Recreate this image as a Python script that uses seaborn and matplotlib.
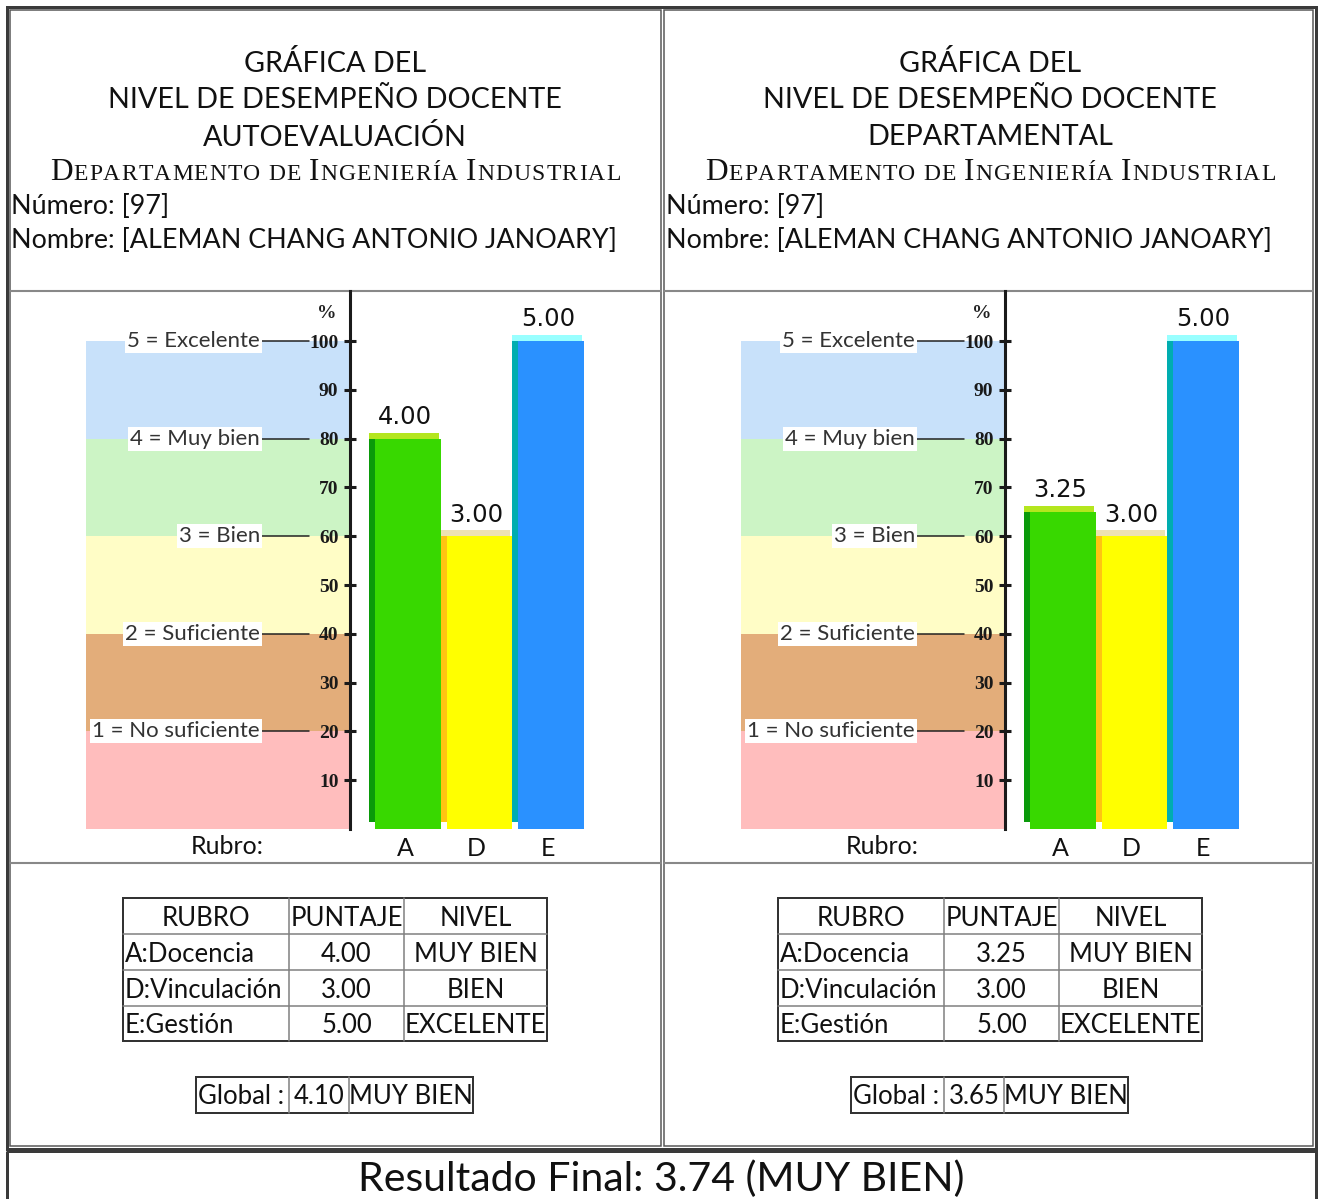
import matplotlib
matplotlib.use("Agg")
import matplotlib.pyplot as plt
import seaborn as sns
import pandas as pd
from matplotlib.patches import Rectangle
from matplotlib.offsetbox import TextArea, HPacker, DrawingArea, AnnotationBbox

# data
rubros = ["A", "D", "E"]
rubro_nombres = ["A:Docencia", "D:Vinculación", "E:Gestión"]
puntaje_auto = [4.00, 3.00, 5.00]
puntaje_depto = [3.25, 3.00, 5.00]
nivel_auto = ["MUY BIEN", "BIEN", "EXCELENTE"]
nivel_depto = ["MUY BIEN", "BIEN", "EXCELENTE"]
global_auto = 4.10
global_depto = 3.65
global_nivel_auto = "MUY BIEN"
global_nivel_depto = "MUY BIEN"
resultado_final = 3.74
resultado_nivel = "MUY BIEN"
numero = 97
nombre = "ALEMAN CHANG ANTONIO JANOARY"
departamento = "Departamento de Ingeniería Industrial"
niveles = ["1 = No suficiente", "2 = Suficiente", "3 = Bien", "4 = Muy bien", "5 = Excelente"]
limites = [0, 20, 40, 60, 80, 100]
yticks = [10, 20, 30, 40, 50, 60, 70, 80, 90, 100]

band_colors = ["#FFBDBD", "#E3AD7A", "#FFFDC6", "#CCF4C5", "#C8E1FA"]
main_colors = ["#38D800", "#FFFF00", "#2A91FF"]
side_colors = ["#0A9A0A", "#FFC412", "#00ADB0"]
top_colors = ["#B4E61E", "#EEE2B2", "#99FFFF"]

W, H = 1318, 1199
SANS = ["Lato", "DejaVu Sans"]
SERIF = ["Liberation Serif", "DejaVu Serif"]
PX = 0.72  # points per pixel at dpi 100

sns.set_theme(style="white")
plt.rcParams["font.family"] = SANS
plt.rcParams["text.color"] = "#111111"

fig = plt.figure(figsize=(W / 100, H / 100), dpi=100)
fig.patch.set_facecolor("white")
ax0 = fig.add_axes([0, 0, 1, 1], zorder=0)
ax0.set_xlim(0, W)
ax0.set_ylim(H, 0)
ax0.axis("off")


def box(ax, x0, y0, x1, y1, color, lw):
    ax.add_patch(Rectangle((x0, y0), x1 - x0, y1 - y0, fill=False,
                           edgecolor=color, linewidth=lw * PX))


def small_caps(ax, text, x, y, big, small, track=0.8):
    # fake small caps: one TextArea per letter, a little tracking between them
    parts = []
    for i, word in enumerate(text.split(" ")):
        if i:
            parts.append(DrawingArea(small * 0.25, 1))
        for ch in word:
            size = big if ch.isupper() else small
            parts.append(TextArea(ch.upper(), textprops=dict(
                size=size, family=SERIF, color="#111111")))
    pack = HPacker(children=parts, align="baseline", pad=0, sep=track)
    ab = AnnotationBbox(pack, (x, y), xycoords="data", frameon=False,
                        box_alignment=(0.5, 0.5), pad=0)
    ax.add_artist(ab)


def header(ox, subtitulo):
    cx = 335 + ox
    ax0.text(cx, 63, "GRÁFICA DEL", ha="center", va="center", fontsize=20.7)
    ax0.text(cx, 100, "NIVEL DE DESEMPEÑO DOCENTE", ha="center", va="center", fontsize=20.7)
    ax0.text(cx, 137, subtitulo, ha="center", va="center", fontsize=20.7)
    small_caps(ax0, departamento, cx, 172, 22.5, 17)
    ax0.text(11 + ox, 206, f"Número: [{numero}]", ha="left", va="center", fontsize=19.4)
    ax0.text(11 + ox, 240, f"Nombre: [{nombre}]", ha="left", va="center", fontsize=19.4)


def chart(ox, puntajes):
    scale = 71.5          # pixels per category step
    c0 = 408              # pixel centre of first bar
    strip = 6 / scale

    def px(xp):
        return (xp - c0) / scale

    ax = fig.add_axes([(86 + ox) / W, 1 - 829 / H, 514 / W, 538 / H], zorder=2)
    ax.set_facecolor("none")
    df = pd.DataFrame({"rubro": rubros, "pct": [p * 20 for p in puntajes]})
    sns.barplot(data=df, x="rubro", y="pct", hue="rubro", order=rubros,
                hue_order=rubros, palette=main_colors, width=65.5 / scale,
                saturation=1, legend=False, linewidth=0, ax=ax)
    bars = sorted(ax.patches, key=lambda p: p.get_x())
    spine_x = px(350)

    # level bands
    frac = (350 - 86) / 514
    for lo, hi, col in zip(limites[:-1], limites[1:], band_colors):
        ax.axhspan(lo, hi, xmin=0, xmax=frac, color=col, lw=0, zorder=0)
    for lvl, lbl in zip(limites[1:], niveles):
        ax.plot([px(262), px(309)], [lvl, lvl], color="#222222", lw=1.1, zorder=1)
        ax.text(px(260), lvl, lbl, ha="right", va="center", fontsize=16,
                color="#333333", zorder=2,
                bbox=dict(facecolor="white", edgecolor="none", pad=1.5))
    ax.text(px(327), 105.7, "%", ha="center", va="center", fontsize=14,
            family=SERIF, fontweight="bold", color="#222222")

    # 3d-ish bar edges and value labels
    centers = []
    for p, val, sc, tc in zip(bars, puntajes, side_colors, top_colors):
        x0, w, h = p.get_x(), p.get_width(), p.get_height()
        ax.add_patch(Rectangle((x0 - strip, 1.4), strip, h - 1.4, color=sc, lw=0, zorder=1))
        ax.add_patch(Rectangle((x0 - strip, h), strip + w - 0.03, 1.25, color=tc, lw=0, zorder=1))
        cx = x0 + (w - strip) / 2
        centers.append(cx)
        ax.text(cx, h + 3.0, f"{val:.2f}", ha="center", va="baseline",
                fontsize=17.5, family=["DejaVu Sans"], color="#111111")

    ax.set_xlim(px(86), px(600))
    ax.set_ylim(0, 538 / 4.88)
    ax.set_xlabel("")
    ax.set_ylabel("")
    for s in ["top", "right", "bottom"]:
        ax.spines[s].set_visible(False)
    ax.spines["left"].set_position(("data", spine_x))
    ax.spines["left"].set_linewidth(2.2)
    ax.spines["left"].set_color("#1a1a1a")
    ax.spines["left"].set_zorder(3)
    ax.set_yticks(yticks)
    ax.tick_params(axis="y", direction="inout", length=8.6, width=2.2, pad=4.0,
                   colors="#1a1a1a", labelsize=14, left=True)
    for t in ax.get_yticklabels():
        t.set_fontfamily(SERIF)
        t.set_fontweight("bold")
    ax.set_xticks(centers)
    ax.set_xticklabels(rubros, fontsize=18)
    ax.tick_params(axis="x", length=0, pad=5.5, colors="#111111")
    ax0.text(227 + ox, 847, "Rubro:", ha="center", va="center", fontsize=18)


def tabla(ox, puntajes, niveles_txt, g_val, g_nivel):
    cols = [c + ox for c in [123, 289, 404, 547]]
    rows = [898, 934, 970, 1006, 1041]
    fs = 18.5
    for x in cols[1:-1]:
        ax0.plot([x, x], [rows[0], rows[-1]], color="#808080", lw=1.1)
    for y in rows[1:-1]:
        ax0.plot([cols[0], cols[-1]], [y, y], color="#808080", lw=1.1)
    box(ax0, cols[0], rows[0], cols[-1], rows[-1], "#333333", 2)
    mid = [(a + b) / 2 for a, b in zip(rows[:-1], rows[1:])]
    cmid = [(a + b) / 2 for a, b in zip(cols[:-1], cols[1:])]
    for cx, t in zip(cmid, ["RUBRO", "PUNTAJE", "NIVEL"]):
        ax0.text(cx, mid[0] + 2, t, ha="center", va="center", fontsize=fs)
    for y, n, p, nv in zip(mid[1:], rubro_nombres, puntajes, niveles_txt):
        ax0.text(cols[0] + 2, y + 2, n, ha="left", va="center", fontsize=fs)
        ax0.text(cmid[1], y + 2, f"{p:.2f}", ha="center", va="center", fontsize=fs)
        ax0.text(cmid[2], y + 2, nv, ha="center", va="center", fontsize=fs)

    gc = [c + ox for c in [196, 289, 349, 473]]
    gy0, gy1 = 1077, 1113
    for x in gc[1:-1]:
        ax0.plot([x, x], [gy0, gy1], color="#808080", lw=1.1)
    box(ax0, gc[0], gy0, gc[-1], gy1, "#333333", 2)
    gm = (gy0 + gy1) / 2 + 2
    ax0.text(gc[0] + 2, gm, "Global :", ha="left", va="center", fontsize=fs)
    ax0.text((gc[1] + gc[2]) / 2, gm, f"{g_val:.2f}", ha="center", va="center", fontsize=fs)
    ax0.text((gc[2] + gc[3]) / 2, gm, g_nivel, ha="center", va="center", fontsize=fs)


# frames
box(ax0, 7, 7, 1316, 1149, "#3a3a3a", 3)
box(ax0, 10, 10, 661, 1146, "#555555", 1.5)
box(ax0, 664, 10, 1313, 1146, "#555555", 1.5)
for y in [291, 863]:
    ax0.plot([10, 661], [y, y], color="#888888", lw=1.5)
    ax0.plot([664, 1313], [y, y], color="#888888", lw=1.5)
box(ax0, 7, 1151, 1316, 1210, "#3a3a3a", 3)

header(0, "AUTOEVALUACIÓN")
header(655, "DEPARTAMENTAL")
chart(0, puntaje_auto)
chart(655, puntaje_depto)
tabla(0, puntaje_auto, nivel_auto, global_auto, global_nivel_auto)
tabla(655, puntaje_depto, nivel_depto, global_depto, global_nivel_depto)

ax0.text(661, 1179, f"Resultado Final: {resultado_final:.2f} ({resultado_nivel})",
         ha="center", va="center", fontsize=29.5)

fig.savefig("out.png", dpi=100, facecolor="white")
